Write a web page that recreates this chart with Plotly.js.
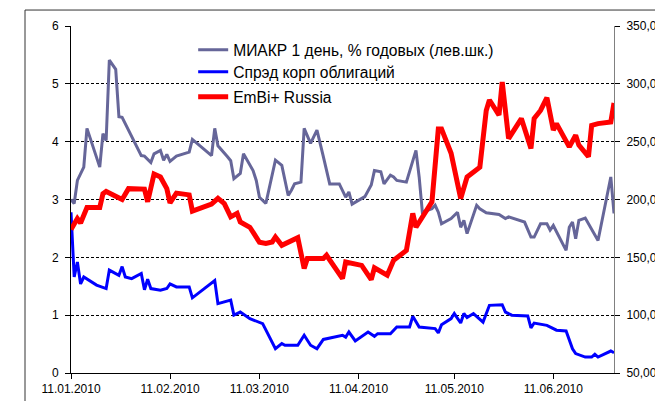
<!DOCTYPE html>
<html>
<head>
<meta charset="utf-8">
<script src="https://cdn.plot.ly/plotly-3.0.1.min.js"></script>
<style>
html,body{margin:0;padding:0;background:#fff;}
#chart{width:655px;height:401px;}
</style>
</head>
<body>
<div id="chart"></div>
<script>
// ---- Data ----
const seriesNames = ["МИАКР 1 день, % годовых (лев.шк.)", "Спрэд корп облигаций", "EmBi+ Russia"];

const miacrDates = ["2010-01-11","2010-01-12","2010-01-13","2010-01-15","2010-01-16","2010-01-20","2010-01-21","2010-01-22","2010-01-23","2010-01-25","2010-01-26","2010-01-27",
  "2010-02-02","2010-02-03","2010-02-05","2010-02-06","2010-02-08","2010-02-09","2010-02-10","2010-02-11","2010-02-13","2010-02-17","2010-02-18","2010-02-24","2010-02-25","2010-02-26",
  "2010-03-01","2010-03-02","2010-03-03","2010-03-05","2010-03-06","2010-03-09","2010-03-10","2010-03-11","2010-03-13","2010-03-16","2010-03-18","2010-03-20","2010-03-21","2010-03-22","2010-03-24","2010-03-25","2010-03-27","2010-03-29","2010-03-31",
  "2010-04-02","2010-04-05","2010-04-07","2010-04-08","2010-04-09","2010-04-13","2010-04-15","2010-04-16","2010-04-18","2010-04-19","2010-04-21","2010-04-22","2010-04-23","2010-04-26","2010-04-29","2010-04-30",
  "2010-05-01","2010-05-04","2010-05-05","2010-05-06","2010-05-07","2010-05-10","2010-05-12","2010-05-13","2010-05-14","2010-05-15","2010-05-18","2010-05-19","2010-05-21","2010-05-25","2010-05-27","2010-05-28",
  "2010-06-02","2010-06-04","2010-06-05","2010-06-07","2010-06-09","2010-06-10","2010-06-11","2010-06-15","2010-06-16","2010-06-17","2010-06-18","2010-06-19","2010-06-21","2010-06-25","2010-06-29","2010-06-30"];
const miacrValues = [3.00,2.93,3.33,3.56,4.23,3.56,4.14,4.02,5.41,5.25,4.43,4.42,
  3.76,3.75,3.64,3.79,3.85,3.68,3.78,3.66,3.75,3.82,4.04,3.76,4.23,3.93,
  3.74,3.67,3.36,3.45,3.79,3.50,3.33,3.04,2.93,3.68,3.59,3.07,3.16,3.27,3.30,4.23,3.97,4.20,3.74,
  3.27,3.27,3.04,3.13,2.92,3.05,3.25,3.50,3.48,3.27,3.42,3.39,3.33,3.30,3.85,3.39,
  2.78,2.84,2.90,2.78,2.58,2.67,2.78,2.52,2.64,2.41,2.90,2.84,2.77,2.74,2.67,2.70,
  2.61,2.35,2.35,2.58,2.58,2.47,2.55,2.12,2.52,2.61,2.32,2.64,2.68,2.29,3.39,2.76];

const spreadDates = ["2010-01-11","2010-01-12","2010-01-13","2010-01-14","2010-01-15","2010-01-19","2010-01-22","2010-01-23","2010-01-26","2010-01-27","2010-01-28","2010-01-30",
  "2010-02-02","2010-02-03","2010-02-04","2010-02-05","2010-02-08","2010-02-10","2010-02-11","2010-02-13","2010-02-17","2010-02-18","2010-02-25","2010-02-26",
  "2010-03-02","2010-03-03","2010-03-05","2010-03-08","2010-03-12","2010-03-16","2010-03-18","2010-03-19","2010-03-23","2010-03-25","2010-03-27","2010-03-29","2010-03-31",
  "2010-04-06","2010-04-07","2010-04-08","2010-04-10","2010-04-14","2010-04-16","2010-04-17","2010-04-21","2010-04-23","2010-04-27","2010-04-28","2010-04-30",
  "2010-05-05","2010-05-06","2010-05-07","2010-05-10","2010-05-11","2010-05-13","2010-05-14","2010-05-15","2010-05-17","2010-05-20","2010-05-22","2010-05-26","2010-05-27","2010-05-29",
  "2010-06-03","2010-06-04","2010-06-05","2010-06-09","2010-06-12","2010-06-15","2010-06-17","2010-06-18","2010-06-21","2010-06-23","2010-06-24","2010-06-25","2010-06-29","2010-06-30"];
const spreadValues = [189,133,146,127,133,126,123,139,134.5,142,133,131.6,
  136,122,131,123,121.5,123,127,124.4,124.4,115,130,110,
  113,100,102.7,97,92.7,71,75.4,74,74,82.6,74,71,79,
  82.6,81,85.4,77.7,85.4,81.7,84,84,89.8,89.8,99,89.8,
  88.4,84.6,91.8,97,101.4,93.2,101.4,97.9,101.4,94,108.5,109,102.7,100,
  99.3,89,93.2,91.2,87,86.3,71,66.8,63.8,63.8,66.2,63.8,69,67.6];

const embiDates = ["2010-01-11","2010-01-13","2010-01-14","2010-01-16","2010-01-20","2010-01-21","2010-01-22","2010-01-27","2010-01-29",
  "2010-02-03","2010-02-04","2010-02-06","2010-02-08","2010-02-10","2010-02-11","2010-02-13","2010-02-17","2010-02-18","2010-02-24","2010-02-26","2010-02-28",
  "2010-03-02","2010-03-04","2010-03-05","2010-03-08","2010-03-10","2010-03-11","2010-03-13","2010-03-15","2010-03-16","2010-03-18","2010-03-23","2010-03-25","2010-03-26","2010-03-31",
  "2010-04-01","2010-04-06","2010-04-07","2010-04-12","2010-04-15","2010-04-16","2010-04-20","2010-04-22","2010-04-26","2010-04-28","2010-04-29",
  "2010-05-04","2010-05-06","2010-05-07","2010-05-10","2010-05-13","2010-05-15","2010-05-19","2010-05-21","2010-05-22","2010-05-25","2010-05-26","2010-05-28",
  "2010-06-01","2010-06-04","2010-06-05","2010-06-07","2010-06-09","2010-06-11","2010-06-12","2010-06-16","2010-06-18","2010-06-19","2010-06-22","2010-06-23","2010-06-25","2010-06-29","2010-06-30"];
const embiValues = [174,183.5,179.7,193,193,205,207,200,209.4,
  209,198,222,219.5,209.4,197,205.5,204,190,196,201,196.5,
  185,188,180.6,176,167,163,162,163.3,167.6,160.4,167,140.3,149,149,
  151.8,131.6,146,143,130.8,141,134.5,147.4,156,188,176,
  198,261,261,240,200.8,219.5,228,277,286,273,301.6,252.7,
  270,244,270,277,288,260,265.6,245.5,255.6,247,237,264,265.6,267,283.4];

const xTickDates = ["2010-01-11","2010-02-11","2010-03-11","2010-04-11","2010-05-11","2010-06-11"];
const xTickLabels = ["11.01.2010","11.02.2010","11.03.2010","11.04.2010","11.05.2010","11.06.2010"];

// ---- Chart ----
const FONT = "'Liberation Sans', Arial, sans-serif";

const traces = [
  {x: miacrDates, y: miacrValues, name: seriesNames[0], type: "scatter", mode: "lines",
   line: {color: "#666699", width: 3}, yaxis: "y", legend: "legend"},
  {x: spreadDates, y: spreadValues, name: seriesNames[1], type: "scatter", mode: "lines",
   line: {color: "#0000ff", width: 3}, yaxis: "y2", legend: "legend2"},
  {x: embiDates, y: embiValues, name: seriesNames[2], type: "scatter", mode: "lines",
   line: {color: "#ff0000", width: 5}, yaxis: "y2", legend: "legend3"}
];

const legBase = {xanchor: "left", yanchor: "middle", x: 0.225, bgcolor: "rgba(0,0,0,0)",
  borderwidth: 0, font: {family: FONT, size: 15.6, color: "#000"}};

const layout = {
  width: 655, height: 401,
  margin: {l: 71, r: 41, t: 26, b: 28, pad: 0},
  paper_bgcolor: "#fff", plot_bgcolor: "#fff",
  font: {family: FONT, size: 12, color: "#000"},
  separators: ", ",
  showlegend: true,
  legend: Object.assign({}, legBase, {y: 0.9308}),
  legend2: Object.assign({}, legBase, {y: 0.8674}),
  legend3: Object.assign({}, legBase, {y: 0.7954}),
  xaxis: {
    type: "date", range: ["2010-01-11", "2010-06-30"],
    tickmode: "array", tickvals: xTickDates, ticktext: xTickLabels,
    ticks: "outside", ticklen: 5, tickcolor: "#000", tickwidth: 1,
    showline: true, linecolor: "#000", linewidth: 1,
    showgrid: false, zeroline: false,
    tickfont: {family: FONT, size: 12, color: "#000"}
  },
  yaxis: {
    range: [0, 6], tickmode: "linear", tick0: 0, dtick: 1,
    ticks: "outside", ticklen: 5, tickcolor: "#000",
    showline: true, linecolor: "#000", linewidth: 1,
    showgrid: true, gridcolor: "#000", gridwidth: 1, griddash: "3px,2px",
    zeroline: false, ticklabelstandoff: 4,
    tickfont: {family: FONT, size: 12, color: "#000"}
  },
  yaxis2: {
    range: [50, 350], tickmode: "linear", tick0: 50, dtick: 50,
    overlaying: "y", side: "right", tickformat: ".2f",
    ticks: "outside", ticklen: 5, tickcolor: "#000",
    showline: true, linecolor: "#808080", linewidth: 1,
    showgrid: false, zeroline: false, ticklabelstandoff: 4,
    tickfont: {family: FONT, size: 12, color: "#000"}
  },
  shapes: [
    {type: "rect", xref: "paper", yref: "paper", x0: -0.0847, x1: 1.1, y0: -0.1, y1: 1.046,
     line: {color: "#333", width: 1}, fillcolor: "rgba(0,0,0,0)", layer: "below"}
  ]
};

Plotly.newPlot("chart", traces, layout, {displayModeBar: false, staticPlot: true});
</script>
</body>
</html>
